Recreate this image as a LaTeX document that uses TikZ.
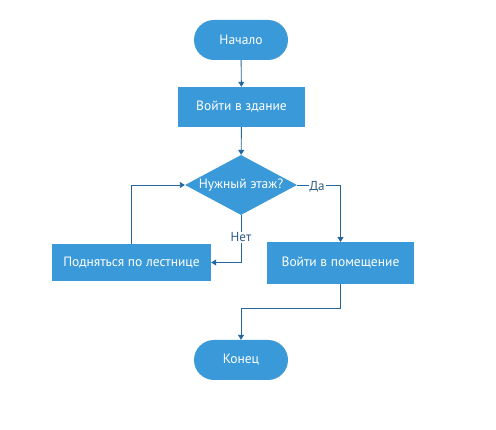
\documentclass[tikz,border=0pt]{standalone}
\usepackage{fontspec}
\setmainfont{PT Sans}
\usetikzlibrary{shapes.geometric,shapes.misc,arrows.meta}
\definecolor{boxblue}{HTML}{3A99D8}
\definecolor{linecol}{HTML}{2467A0}
\definecolor{labcol}{HTML}{2E5C85}
\tikzset{
  base/.style={fill=boxblue, draw=none, text=white, font=\fontsize{13.5}{15}\selectfont, inner sep=0pt},
  term/.style={base, rounded rectangle, minimum width=94pt, minimum height=40pt},
  proc/.style={base, rectangle, minimum width=127pt, minimum height=40pt},
  conn/.style={draw=linecol, line width=0.9pt, -{Triangle[width=6pt,length=5pt]}},
  lab/.style={fill=white, text=labcol, font=\fontsize{13}{15}\selectfont, inner sep=1pt}
}
\begin{document}
\begin{tikzpicture}[x=1pt,y=-1pt]
\useasboundingbox (0,0) rectangle (496,430);
\node[term] (start) at (241,40) {Начало};
\node[proc] (enter) at (241.5,107) {Войти в здание};
\node[base, diamond, minimum width=112pt, minimum height=60pt] (q) at (241,185) {};
\node[text=white, font=\fontsize{13.5}{15}\selectfont] (qt) at (q.center) {Нужный этаж?};
\node[proc, minimum width=159pt, minimum height=37pt] (up) at (131.5,262.5) {Подняться по лестнице};
\node[proc, minimum width=147pt, minimum height=41.5pt] (room) at (340.5,263) {Войти в помещение};
\node[term] (end) at (241,360) {Конец};
\coordinate (c1) at (241,308);
\draw[conn] (start) -- (enter);
\draw[conn] (enter) -- (q);
\draw[conn] (q.east) -| (room.north) node[lab, pos=0.23, yshift=-1.5pt] {Да};
\draw[conn] (q.south) |- (up.east) node[lab, pos=0.235] {Нет};
\draw[conn] (up.north) |- (q.west);
\draw[conn] (room.south) |- (c1) -- (end.north);
\end{tikzpicture}
\end{document}
